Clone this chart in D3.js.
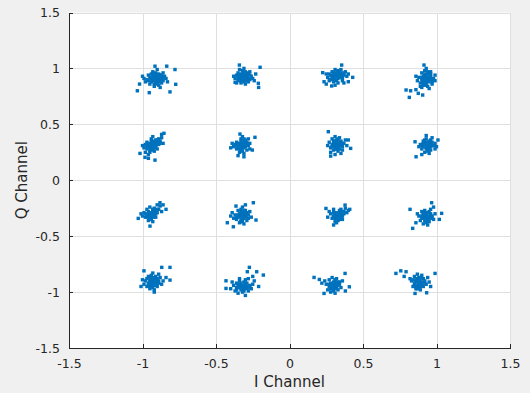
<!DOCTYPE html>
<html lang="en">
<head>
<meta charset="utf-8">
<title>16-QAM constellation</title>
<script type="text/javascript" src="https://d3js.org/d3.v7.min.js"></script>
<style type="text/css">
  html, body { margin: 0; padding: 0; background: #f0f0f0; }
  .axis text { font-family: "DejaVu Sans", sans-serif; font-size: 12.5px; fill: #262626; }
  .axis path, .axis line { stroke: #262626; shape-rendering: crispEdges; }
  .grid line { stroke: #dfdfdf; shape-rendering: crispEdges; }
  .label { font-family: "DejaVu Sans", sans-serif; font-size: 15px; fill: #262626; }
</style>
</head>
<body>
<div id="chart"></div>
<script type="text/javascript">

// tick values on both axes
var ticks = [-1.5, -1, -0.5, 0, 0.5, 1, 1.5]

// received symbols, one array per constellation point, [I, Q]
var ptA = [[-0.90,0.91],[-0.92,0.93],[-0.88,0.90],[-0.91,0.88],[-0.87,0.92],[-0.93,0.90],[-0.89,0.95],[-0.95,0.92],[-0.86,0.89],[-0.90,0.87],[-0.94,0.88],[-0.88,0.94],[-0.91,0.96],[-0.85,0.93],[-0.97,0.90],[-0.92,0.86],[-0.89,0.85],[-0.96,0.94],[-0.84,0.91],[-0.93,0.97],[-0.87,0.87],[-0.99,0.91],[-0.90,0.99],[-0.86,0.96],[-0.95,0.86],[-0.83,0.88],[-0.98,0.88],[-0.92,0.84],[-0.88,0.83],[-1.00,0.93],[-0.94,0.95],[-0.91,0.91],[-0.89,0.92],[-0.93,0.93],[-0.87,0.90],
  [-0.90,0.90],[-0.92,0.91],[-0.89,0.89],[-0.91,0.93],[-0.93,0.89],[-0.88,0.92],[-0.90,0.94],[-0.94,0.91],[-0.91,0.86],[-0.89,0.88],[-0.87,0.94],[-0.92,0.95],[-0.96,0.89],[-0.86,0.91],
  [-1.035,0.80],[-0.954,0.783],[-0.813,0.79],[-0.774,0.858],[-0.779,0.99],[-0.835,1.02],[-0.915,1.02],[-1.02,0.86]]
var ptB = [[-0.31,0.93],[-0.33,0.95],[-0.29,0.92],[-0.32,0.90],[-0.28,0.95],[-0.34,0.92],[-0.30,0.97],[-0.36,0.94],[-0.27,0.90],[-0.31,0.88],[-0.35,0.89],[-0.29,0.96],[-0.32,0.98],[-0.26,0.93],[-0.37,0.91],[-0.33,0.87],[-0.30,0.86],[-0.35,0.96],[-0.25,0.91],[-0.34,0.99],[-0.28,0.88],[-0.38,0.93],[-0.31,1.00],[-0.27,0.97],[-0.36,0.87],[-0.24,0.89],[-0.30,0.94],[-0.33,0.93],[-0.29,0.90],[-0.32,0.95],
  [-0.31,0.92],[-0.33,0.91],[-0.30,0.95],[-0.32,0.94],[-0.29,0.93],[-0.34,0.94],[-0.31,0.96],[-0.33,0.89],[-0.28,0.91],[-0.30,0.89],[-0.35,0.92],[-0.27,0.94],
  [-0.20,1.01],[-0.212,0.867],[-0.21,0.83],[-0.341,1.03],[-0.37,0.876],[-0.23,0.95]]
var ptC = [[-0.93,0.31],[-0.95,0.33],[-0.91,0.30],[-0.94,0.28],[-0.90,0.34],[-0.96,0.30],[-0.92,0.35],[-0.98,0.32],[-0.89,0.32],[-0.93,0.27],[-0.97,0.28],[-0.91,0.36],[-0.94,0.37],[-0.88,0.35],[-0.99,0.29],[-0.95,0.25],[-0.92,0.26],[-0.97,0.34],[-0.87,0.38],[-0.96,0.23],[-0.90,0.28],[-1.00,0.31],[-0.93,0.39],[-0.89,0.37],[-0.98,0.25],[-0.86,0.33],[-0.94,0.32],[-0.92,0.32],[-0.95,0.29],[-0.91,0.33],
  [-0.93,0.33],[-0.95,0.31],[-0.92,0.29],[-0.94,0.35],[-0.96,0.32],[-0.91,0.31],[-0.93,0.29],[-0.90,0.36],[-0.97,0.30],[-0.95,0.27],[-0.92,0.34],[-0.88,0.33],
  [-0.854,0.42],[-1.017,0.24],[-0.96,0.196],[-0.915,0.18],[-0.983,0.205],[-0.87,0.41]]
var ptD = [[-0.32,0.31],[-0.34,0.33],[-0.30,0.30],[-0.33,0.28],[-0.29,0.34],[-0.35,0.30],[-0.31,0.35],[-0.37,0.32],[-0.28,0.31],[-0.32,0.26],[-0.36,0.28],[-0.30,0.36],[-0.33,0.37],[-0.27,0.33],[-0.38,0.30],[-0.34,0.25],[-0.31,0.24],[-0.36,0.34],[-0.27,0.28],[-0.35,0.22],[-0.29,0.27],[-0.39,0.33],[-0.32,0.39],[-0.28,0.37],[-0.33,0.32],[-0.31,0.29],[-0.34,0.30],[-0.30,0.33],
  [-0.32,0.33],[-0.34,0.31],[-0.31,0.32],[-0.33,0.35],[-0.35,0.32],[-0.30,0.31],[-0.32,0.29],[-0.29,0.32],[-0.36,0.31],[-0.33,0.27],[-0.31,0.37],[-0.34,0.28],
  [-0.235,0.384],[-0.253,0.27],[-0.337,0.413],[-0.31,0.21],[-0.40,0.29]]
var ptE = [[0.32,0.94],[0.30,0.96],[0.34,0.93],[0.31,0.91],[0.35,0.96],[0.29,0.93],[0.33,0.98],[0.27,0.95],[0.36,0.91],[0.32,0.89],[0.28,0.90],[0.34,0.97],[0.31,0.99],[0.37,0.94],[0.26,0.92],[0.30,0.88],[0.33,0.87],[0.38,0.97],[0.39,0.93],[0.29,0.97],[0.36,0.89],[0.25,0.95],[0.35,0.99],[0.40,0.95],[0.27,0.89],[0.37,0.87],[0.31,0.94],[0.33,0.95],[0.35,0.94],[0.30,0.92],
  [0.32,0.93],[0.34,0.95],[0.30,0.94],[0.33,0.91],[0.31,0.96],[0.36,0.93],[0.29,0.91],[0.35,0.92],[0.28,0.94],[0.33,0.97],[0.37,0.96],[0.30,0.90],
  [0.355,1.03],[0.226,0.962],[0.235,0.881],[0.287,0.843],[0.43,0.92],[0.40,0.881],[0.25,0.86],[0.31,0.85]]
var ptF = [[0.93,0.91],[0.91,0.93],[0.95,0.90],[0.92,0.88],[0.96,0.93],[0.90,0.90],[0.94,0.95],[0.88,0.92],[0.97,0.88],[0.93,0.86],[0.89,0.87],[0.95,0.96],[0.92,0.98],[0.98,0.91],[0.87,0.89],[0.91,0.85],[0.94,0.84],[0.96,0.97],[0.99,0.94],[0.90,0.96],[0.97,0.86],[0.86,0.93],[0.93,1.00],[0.99,0.89],[0.89,0.84],[0.95,0.82],[0.92,0.93],[0.94,0.92],[0.91,0.89],[0.96,0.91],[0.90,0.83],
  [0.93,0.93],[0.95,0.92],[0.92,0.90],[0.94,0.89],[0.91,0.91],[0.96,0.95],[0.93,0.88],[0.90,0.92],[0.95,0.88],[0.92,0.95],[0.94,0.97],[0.97,0.90],[0.91,0.87],[0.92,0.85],
  [0.793,0.807],[0.824,0.80],[0.815,0.741],[0.876,0.777],[0.906,0.762],[0.915,1.03],[0.86,0.81]]
var ptG = [[0.32,0.33],[0.30,0.35],[0.34,0.32],[0.31,0.30],[0.35,0.35],[0.29,0.32],[0.33,0.37],[0.27,0.34],[0.36,0.30],[0.32,0.28],[0.28,0.29],[0.34,0.38],[0.31,0.39],[0.37,0.33],[0.26,0.31],[0.30,0.27],[0.33,0.26],[0.38,0.36],[0.36,0.27],[0.29,0.37],[0.39,0.31],[0.28,0.25],[0.35,0.24],[0.31,0.33],[0.33,0.31],[0.30,0.31],[0.35,0.33],
  [0.32,0.32],[0.34,0.34],[0.31,0.35],[0.33,0.29],[0.30,0.33],[0.35,0.31],[0.32,0.36],[0.29,0.30],[0.36,0.33],[0.34,0.28],[0.31,0.28],[0.33,0.34],
  [0.264,0.434],[0.28,0.216],[0.416,0.285],[0.40,0.36],[0.31,0.23]]
var ptH = [[0.94,0.31],[0.92,0.33],[0.96,0.30],[0.93,0.28],[0.97,0.34],[0.91,0.30],[0.95,0.35],[0.89,0.32],[0.98,0.31],[0.94,0.26],[0.90,0.28],[0.96,0.36],[0.93,0.37],[0.99,0.33],[0.88,0.30],[0.92,0.25],[0.95,0.24],[0.99,0.28],[0.97,0.38],[0.91,0.35],[1.00,0.30],[0.93,0.40],[0.96,0.27],[0.94,0.32],[0.92,0.30],[0.95,0.33],
  [0.94,0.33],[0.92,0.31],[0.95,0.30],[0.93,0.34],[0.96,0.32],[0.91,0.33],[0.94,0.29],[0.97,0.31],[0.92,0.36],[0.95,0.27],[0.90,0.31],[0.93,0.30],
  [0.854,0.344],[0.861,0.21],[1.01,0.36],[0.90,0.23]]
var ptI = [[-0.94,-0.30],[-0.96,-0.28],[-0.92,-0.31],[-0.95,-0.33],[-0.91,-0.27],[-0.97,-0.31],[-0.93,-0.26],[-0.99,-0.29],[-0.90,-0.29],[-0.94,-0.35],[-0.98,-0.33],[-0.92,-0.25],[-0.95,-0.24],[-0.89,-0.26],[-1.00,-0.32],[-0.96,-0.36],[-0.93,-0.37],[-0.88,-0.23],[-0.87,-0.28],[-1.01,-0.30],[-0.91,-0.33],[-0.97,-0.26],[-0.90,-0.22],[-0.95,-0.30],[-0.93,-0.29],[-0.96,-0.32],
  [-0.93,-0.31],[-0.95,-0.29],[-0.92,-0.28],[-0.94,-0.33],[-0.96,-0.30],[-0.91,-0.30],[-0.93,-0.27],[-0.97,-0.33],[-0.90,-0.26],[-0.95,-0.35],[-0.92,-0.33],[-0.98,-0.30],
  [-0.881,-0.201],[-1.029,-0.341],[-0.949,-0.41],[-0.86,-0.22],[-0.84,-0.26]]
var ptJ = [[-0.32,-0.32],[-0.34,-0.30],[-0.30,-0.33],[-0.33,-0.35],[-0.29,-0.29],[-0.35,-0.33],[-0.31,-0.28],[-0.37,-0.31],[-0.28,-0.31],[-0.32,-0.37],[-0.36,-0.35],[-0.30,-0.27],[-0.33,-0.26],[-0.27,-0.28],[-0.38,-0.34],[-0.34,-0.38],[-0.31,-0.39],[-0.26,-0.33],[-0.35,-0.27],[-0.29,-0.36],[-0.39,-0.29],[-0.32,-0.24],[-0.33,-0.32],[-0.31,-0.31],[-0.30,-0.30],
  [-0.32,-0.30],[-0.34,-0.32],[-0.31,-0.34],[-0.33,-0.29],[-0.30,-0.32],[-0.35,-0.31],[-0.32,-0.35],[-0.29,-0.31],[-0.36,-0.33],[-0.33,-0.37],[-0.31,-0.27],[-0.28,-0.34],
  [-0.246,-0.201],[-0.423,-0.38],[-0.382,-0.416],[-0.228,-0.356],[-0.364,-0.231],[-0.40,-0.32],[-0.30,-0.22]]
var ptK = [[-0.93,-0.91],[-0.95,-0.89],[-0.91,-0.92],[-0.94,-0.94],[-0.90,-0.88],[-0.96,-0.92],[-0.92,-0.87],[-0.98,-0.90],[-0.89,-0.90],[-0.93,-0.96],[-0.97,-0.95],[-0.91,-0.86],[-0.94,-0.85],[-0.88,-0.87],[-0.99,-0.93],[-0.95,-0.97],[-0.92,-0.98],[-0.87,-0.93],[-0.90,-0.95],[-0.96,-0.86],[-0.89,-0.84],[-1.00,-0.89],[-0.93,-0.83],[-0.86,-0.90],[-0.94,-0.91],[-0.92,-0.90],[-0.91,-0.94],[-0.95,-0.93],
  [-0.93,-0.89],[-0.95,-0.91],[-0.92,-0.93],[-0.94,-0.88],[-0.91,-0.90],[-0.96,-0.94],[-0.93,-0.94],[-0.90,-0.92],[-0.97,-0.88],[-0.92,-0.88],[-0.89,-0.92],[-0.95,-0.95],
  [-0.813,-0.779],[-0.99,-0.81],[-0.869,-0.779],[-0.813,-0.893],[-0.84,-0.87],[-0.92,-1.00],[-1.01,-0.95]]
var ptL = [[-0.32,-0.95],[-0.34,-0.93],[-0.30,-0.96],[-0.33,-0.98],[-0.29,-0.92],[-0.36,-0.96],[-0.31,-0.91],[-0.38,-0.94],[-0.27,-0.94],[-0.32,-1.00],[-0.37,-0.99],[-0.30,-0.89],[-0.34,-0.88],[-0.26,-0.97],[-0.39,-0.91],[-0.35,-1.01],[-0.28,-0.99],[-0.25,-0.93],[-0.40,-0.97],[-0.33,-0.94],[-0.31,-0.97],[-0.29,-0.95],[-0.36,-0.92],[-0.28,-0.88],[-0.24,-0.90],
  [-0.32,-0.94],[-0.34,-0.96],[-0.31,-0.95],[-0.33,-0.92],[-0.30,-0.94],[-0.35,-0.94],[-0.32,-0.97],[-0.29,-0.97],[-0.36,-0.98],[-0.33,-0.96],[-0.30,-0.92],[-0.27,-0.96],[-0.34,-0.90],[-0.31,-0.99],
  [-0.273,-0.779],[-0.178,-0.848],[-0.432,-0.899],[-0.432,-0.967],[-0.223,-0.818],[-0.287,-0.818],[-0.25,-0.86],[-0.21,-0.95],[-0.30,-1.03]]
var ptM = [[0.33,-0.31],[0.31,-0.29],[0.35,-0.32],[0.32,-0.34],[0.36,-0.28],[0.30,-0.32],[0.34,-0.27],[0.28,-0.30],[0.37,-0.30],[0.33,-0.36],[0.29,-0.34],[0.35,-0.26],[0.38,-0.25],[0.31,-0.37],[0.27,-0.28],[0.36,-0.35],[0.39,-0.29],[0.32,-0.38],[0.30,-0.26],[0.40,-0.27],[0.34,-0.33],[0.32,-0.30],[0.33,-0.32],
  [0.33,-0.29],[0.35,-0.30],[0.32,-0.32],[0.34,-0.35],[0.31,-0.31],[0.36,-0.32],[0.33,-0.34],[0.30,-0.29],[0.37,-0.28],[0.34,-0.29],[0.31,-0.34],[0.35,-0.34],
  [0.248,-0.252],[0.378,-0.222],[0.41,-0.26],[0.30,-0.40],[0.26,-0.33]]
var ptN = [[0.93,-0.33],[0.91,-0.31],[0.95,-0.34],[0.92,-0.36],[0.96,-0.30],[0.90,-0.34],[0.94,-0.29],[0.88,-0.32],[0.97,-0.32],[0.93,-0.38],[0.89,-0.36],[0.95,-0.28],[0.92,-0.27],[0.98,-0.35],[0.87,-0.30],[0.91,-0.39],[0.94,-0.40],[0.99,-0.30],[0.96,-0.26],[0.90,-0.28],[0.93,-0.31],[0.95,-0.32],[0.91,-0.33],
  [0.93,-0.31],[0.95,-0.33],[0.92,-0.34],[0.94,-0.36],[0.91,-0.30],[0.96,-0.32],[0.93,-0.35],[0.90,-0.32],[0.97,-0.34],[0.92,-0.29],[0.94,-0.33],[0.95,-0.37],
  [0.82,-0.26],[0.838,-0.43],[1.035,-0.296],[1.019,-0.35],[0.967,-0.201],[0.98,-0.24],[0.86,-0.38]]
var ptO = [[0.30,-0.94],[0.28,-0.92],[0.32,-0.95],[0.29,-0.97],[0.33,-0.91],[0.27,-0.95],[0.31,-0.90],[0.25,-0.93],[0.34,-0.93],[0.30,-0.99],[0.26,-0.98],[0.32,-0.88],[0.29,-0.87],[0.35,-0.96],[0.24,-0.90],[0.28,-1.00],[0.31,-1.01],[0.36,-0.90],[0.33,-0.98],[0.27,-0.89],[0.29,-0.94],[0.31,-0.93],[0.30,-0.91],
  [0.30,-0.93],[0.32,-0.92],[0.29,-0.95],[0.31,-0.96],[0.28,-0.94],[0.33,-0.94],[0.30,-0.97],[0.27,-0.93],[0.34,-0.91],[0.31,-0.89],[0.28,-0.97],[0.32,-0.97],
  [0.167,-0.869],[0.203,-0.887],[0.378,-0.833],[0.407,-0.953],[0.235,-1.012],[0.22,-0.92],[0.38,-0.99]]
var ptP = [[0.88,-0.91],[0.86,-0.89],[0.90,-0.92],[0.87,-0.94],[0.91,-0.88],[0.85,-0.92],[0.89,-0.87],[0.83,-0.90],[0.92,-0.90],[0.88,-0.96],[0.84,-0.95],[0.90,-0.85],[0.87,-0.84],[0.93,-0.93],[0.82,-0.88],[0.86,-0.97],[0.89,-0.98],[0.94,-0.87],[0.91,-0.95],[0.85,-0.86],[0.95,-0.91],[0.88,-0.89],[0.89,-0.92],[0.87,-0.90],
  [0.88,-0.92],[0.86,-0.91],[0.89,-0.90],[0.87,-0.88],[0.90,-0.94],[0.85,-0.94],[0.88,-0.87],[0.91,-0.91],[0.86,-0.95],[0.89,-0.95],[0.84,-0.89],[0.92,-0.92],[0.87,-0.97],
  [0.724,-0.833],[0.757,-0.81],[0.793,-0.818],[0.854,-1.012],[0.99,-0.833],[0.933,-1.006],[0.78,-0.86],[0.96,-0.95]]

var data = [].concat(ptA, ptB, ptC, ptD, ptE, ptF, ptG, ptH,
                     ptI, ptJ, ptK, ptL, ptM, ptN, ptO, ptP)

var w = 530
var h = 393
var padL = 69, padR = 510, padT = 12.5, padB = 348

var svg = d3.select("#chart")
    .append("svg")
    .attr("width", w)
    .attr("height", h)
    .style("display", "block")

svg.append("rect")
    .attr("width", w).attr("height", h)
    .attr("fill", "#f0f0f0")

svg.append("rect")
    .attr("x", padL).attr("y", padT)
    .attr("width", padR - padL).attr("height", padB - padT)
    .attr("fill", "#ffffff")

var xScale = d3.scaleLinear().domain([-1.5, 1.5]).range([padL, padR])
var yScale = d3.scaleLinear().domain([-1.5, 1.5]).range([padB, padT])

//grid
var grid = svg.append("g").attr("class", "grid")
grid.selectAll(".gx").data(ticks).enter().append("line")
    .attr("x1", function(d) { return Math.round(xScale(d)) + 0.5 })
    .attr("x2", function(d) { return Math.round(xScale(d)) + 0.5 })
    .attr("y1", padT).attr("y2", padB)
grid.selectAll(".gy").data(ticks).enter().append("line")
    .attr("y1", function(d) { return Math.round(yScale(d)) + 0.5 })
    .attr("y2", function(d) { return Math.round(yScale(d)) + 0.5 })
    .attr("x1", padL).attr("x2", padR)

//points
svg.append("g")
    .selectAll("rect")
    .data(data)
    .enter()
    .append("rect")
    .attr("x", function(d) { return xScale(d[0]) - 1.7 })
    .attr("y", function(d) { return yScale(d[1]) - 1.7 })
    .attr("width", 3.4)
    .attr("height", 3.4)
    .attr("fill", "#0072bd")

//axes, ticks pointing inward like matlab
var fmt = function(d) { return d3.format("~g")(d).replace("−", "-") }
var xAxis = d3.axisBottom(xScale).tickValues(ticks)
    .tickSizeInner(-4).tickSizeOuter(0).tickPadding(11)
    .tickFormat(fmt)
var yAxis = d3.axisLeft(yScale).tickValues(ticks)
    .tickSizeInner(-4).tickSizeOuter(0).tickPadding(9)
    .tickFormat(fmt)

svg.append("g")
    .attr("class", "axis")
    .attr("transform", "translate(0," + padB + ")")
    .call(xAxis)

svg.append("g")
    .attr("class", "axis")
    .attr("transform", "translate(" + padL + ",0)")
    .call(yAxis)

//labels
svg.append("text")
    .attr("class", "label")
    .attr("x", (padL + padR) / 2)
    .attr("y", 387)
    .attr("text-anchor", "middle")
    .text("I Channel")

svg.append("text")
    .attr("class", "label")
    .attr("transform", "translate(27," + ((padT + padB) / 2) + ") rotate(-90)")
    .attr("text-anchor", "middle")
    .text("Q Channel")

</script>
</body>
</html>
